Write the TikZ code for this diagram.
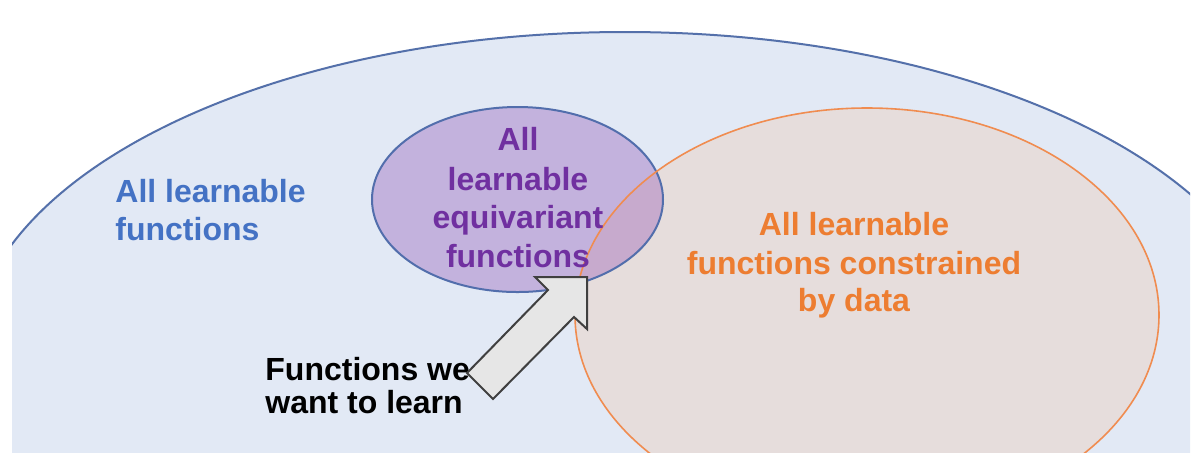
\documentclass[tikz,border=0pt]{standalone}
\usepackage{fontspec}
\setmainfont{Liberation Sans}
\definecolor{bgblue}{RGB}{226,233,245}
\definecolor{bigline}{RGB}{84,112,170}
\definecolor{purplefill}{RGB}{195,178,221}
\definecolor{purpleline}{RGB}{82,110,172}
\definecolor{orangefill}{RGB}{230,221,220}
\definecolor{orangeline}{RGB}{240,140,80}
\definecolor{overlapfill}{RGB}{199,170,205}
\definecolor{bluetext}{RGB}{68,114,196}
\definecolor{purpletext}{RGB}{112,48,160}
\definecolor{orangetext}{RGB}{237,125,49}
\definecolor{arrowfill}{RGB}{230,230,230}
\definecolor{arrowline}{RGB}{64,64,64}
\begin{document}
\begin{tikzpicture}[x=0.5pt,y=-0.5pt,
  txt/.style={font=\fontsize{16}{19}\selectfont\bfseries, inner sep=0pt},
  bigset/.style={x radius=327.5pt, y radius=164pt},
  eqset/.style={x radius=72.75pt, y radius=46.25pt},
  dataset/.style={x radius=146pt, y radius=103.5pt}]
\useasboundingbox[fill=white] (0,0) rectangle (1200,463);
\coordinate (bigc) at (625,360);
\coordinate (eqc) at (517.5,199.5);
\coordinate (datac) at (867,315);
\begin{scope}
  \clip (12,0) rectangle (1190,452.5);
  \fill[bgblue] (bigc) ellipse [bigset];
  \draw[bigline, line width=1pt] (bigc) ellipse [bigset];
  \fill[purplefill] (eqc) ellipse [eqset];
  \fill[orangefill] (datac) ellipse [dataset];
  \begin{scope}
    \clip (eqc) ellipse [eqset];
    \fill[overlapfill] (datac) ellipse [dataset];
  \end{scope}
  \draw[purpleline, line width=1pt] (eqc) ellipse [eqset];
  \draw[orangeline, line width=0.8pt] (datac) ellipse [dataset];
\end{scope}
% texts
\node[txt, text=bluetext, anchor=base west] (b1) at (115,202) {All learnable};
\node[txt, text=bluetext, anchor=base west] (b2) at (115,240) {functions};
\node[txt, text=purpletext, anchor=base] (p1) at (518,150) {All};
\node[txt, text=purpletext, anchor=base] (p2) at (518,190) {learnable};
\node[txt, text=purpletext, anchor=base] (p3) at (518,228) {equivariant};
\node[txt, text=purpletext, anchor=base] (p4) at (518,267) {functions};
\node[txt, text=orangetext, anchor=base] (o1) at (854,235) {All learnable};
\node[txt, text=orangetext, anchor=base] (o2) at (854,274) {functions constrained};
\node[txt, text=orangetext, anchor=base] (o3) at (854,311) {by data};
\node[txt, text=black, anchor=base west] (k1) at (265,380) {Functions we};
\node[txt, text=black, anchor=base west] (k2) at (265,413) {want to learn};
% block arrow
\draw[fill=arrowfill, draw=arrowline, line width=1pt, line join=miter]
  (535,277) -- (587,277) -- (587,329) -- (574,317) -- (493,399) -- (467,373) -- (548,290) -- cycle;
\end{tikzpicture}
\end{document}
